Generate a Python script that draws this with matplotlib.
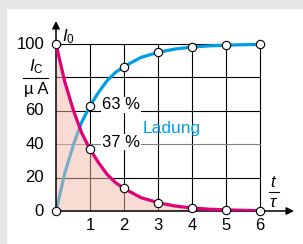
#!/usr/bin/env python3
import matplotlib
matplotlib.use('Agg')
import matplotlib.pyplot as plt
from matplotlib.patches import Rectangle
from matplotlib.lines import Line2D

plt.rcParams['font.family'] = ['Liberation Sans', 'DejaVu Sans']
plt.rcParams['mathtext.fontset'] = 'custom'
plt.rcParams['mathtext.rm'] = 'Liberation Sans'
plt.rcParams['mathtext.it'] = 'Liberation Sans:italic'

# Werte (t in Vielfachen von tau, I in uA)
t_kurve = [0, 0.25, 0.5, 0.75, 1, 1.25, 1.5, 1.75, 2, 2.5, 3, 3.5, 4, 4.5, 5, 5.5, 6]
entladung = [100, 78, 61, 47, 37, 29, 22, 17, 13.5, 8, 5, 3, 1.8, 1.1, 0.7, 0.4, 0.25]
ladung = [0, 22, 39, 53, 63, 71, 78, 83, 86.5, 92, 95, 97, 98.2, 98.9, 99.3, 99.6, 99.75]

x_ticks = [1, 2, 3, 4, 5, 6]
y_ticks = [0, 20, 40, 60, 100]
y_grid = [20, 40, 60, 80, 100]

MAGENTA = '#e2007a'
BLAU = '#009fe3'
ROSA = '#f3b9a9'

fig = plt.figure(figsize=(3.03, 2.44), dpi=100)
fig.patches.append(Rectangle((0, 0), 6 / 303, 1, transform=fig.transFigure,
                             color='#e6e6e6', zorder=0))
fig.patches.append(Rectangle((0, 1 - 8 / 244), 1, 8 / 244, transform=fig.transFigure,
                             color='#e6e6e6', zorder=0))

ax = fig.add_axes([56 / 303, 33 / 244, 238 / 303, 190 / 244])
ax.set_xlim(0, 7.0)
ax.set_ylim(0, 113.8)
ax.axis('off')

# Gitter
for x in x_ticks:
    ax.plot([x, x], [0, 100], color='black', lw=0.8, zorder=1)
for y in y_grid:
    farbe = '#808080' if y == 40 else 'black'
    ax.plot([0, 6], [y, y], color=farbe, lw=0.8, zorder=1)

# Ladekurve (blau) unter der Fläche
ax.plot(t_kurve, ladung, color=BLAU, lw=2.3, zorder=2, solid_capstyle='butt')

# Fläche unter der Entladekurve, halbtransparent
ax.fill_between(t_kurve, entladung, 0, color=ROSA, alpha=0.5, lw=0, zorder=3)

# Achsen mit Pfeilen
ax.annotate('', xy=(7.0, 0), xytext=(0, 0),
            arrowprops=dict(arrowstyle='-|>', color='black', lw=1.1,
                            mutation_scale=11, shrinkA=0, shrinkB=0),
            annotation_clip=False, zorder=4)
ax.annotate('', xy=(0, 113.8), xytext=(0, 0),
            arrowprops=dict(arrowstyle='-|>', color='black', lw=1.1,
                            mutation_scale=11, shrinkA=0, shrinkB=0),
            annotation_clip=False, zorder=4)

# Entladekurve (magenta)
ax.plot(t_kurve, entladung, color=MAGENTA, lw=2.3, zorder=5, solid_capstyle='butt')

# Markierungen bei ganzzahligen t
idx = [i for i, t in enumerate(t_kurve) if float(t).is_integer()]
ax.plot([t_kurve[i] for i in idx], [ladung[i] for i in idx], 'o', ms=6,
        mfc='white', mec='black', mew=0.8, zorder=6, clip_on=False)
ax.plot([t_kurve[i] for i in idx], [entladung[i] for i in idx], 'o', ms=6,
        mfc='white', mec='black', mew=0.8, zorder=6, clip_on=False)

fs = 12
for y in y_ticks:
    ax.text(-0.35, y, str(y), ha='right', va='center', fontsize=fs)
for x in x_ticks:
    ax.text(x, -8.5, str(x), ha='center', va='center', fontsize=fs)

# Achsenbeschriftung y: I_C / uA
ax.text(-0.59, 86.5, r'$I_\mathrm{C}$', ha='center', va='center', fontsize=fs)
ax.add_line(Line2D([-0.96, -0.23], [79.5, 79.5], color='black', lw=0.8, clip_on=False))
ax.text(-0.59, 72.5, 'µ A', ha='center', va='center', fontsize=fs)
ax.text(0.17, 104.5, r'$I_0$', ha='left', va='center', fontsize=fs)

# Achsenbeschriftung x: t / tau
ax.text(6.41, 17.0, r'$t$', ha='center', va='center', fontsize=fs)
ax.add_line(Line2D([6.26, 6.56], [11.6, 11.6], color='black', lw=0.8, clip_on=False))
ax.text(6.41, 5.0, r'$\tau$', ha='center', va='center', fontsize=fs)

box = dict(facecolor='white', edgecolor='none', pad=0.6)
ax.text(1.36, 63.5, '63 %', ha='left', va='center', fontsize=fs, bbox=box, zorder=4)
ax.text(1.36, 41.3, '37 %', ha='left', va='center', fontsize=fs, bbox=box, zorder=4)
ax.text(2.56, 49.5, 'Ladung', ha='left', va='center', fontsize=12.5, color=BLAU, zorder=4)

fig.savefig('out.png', dpi=100)
